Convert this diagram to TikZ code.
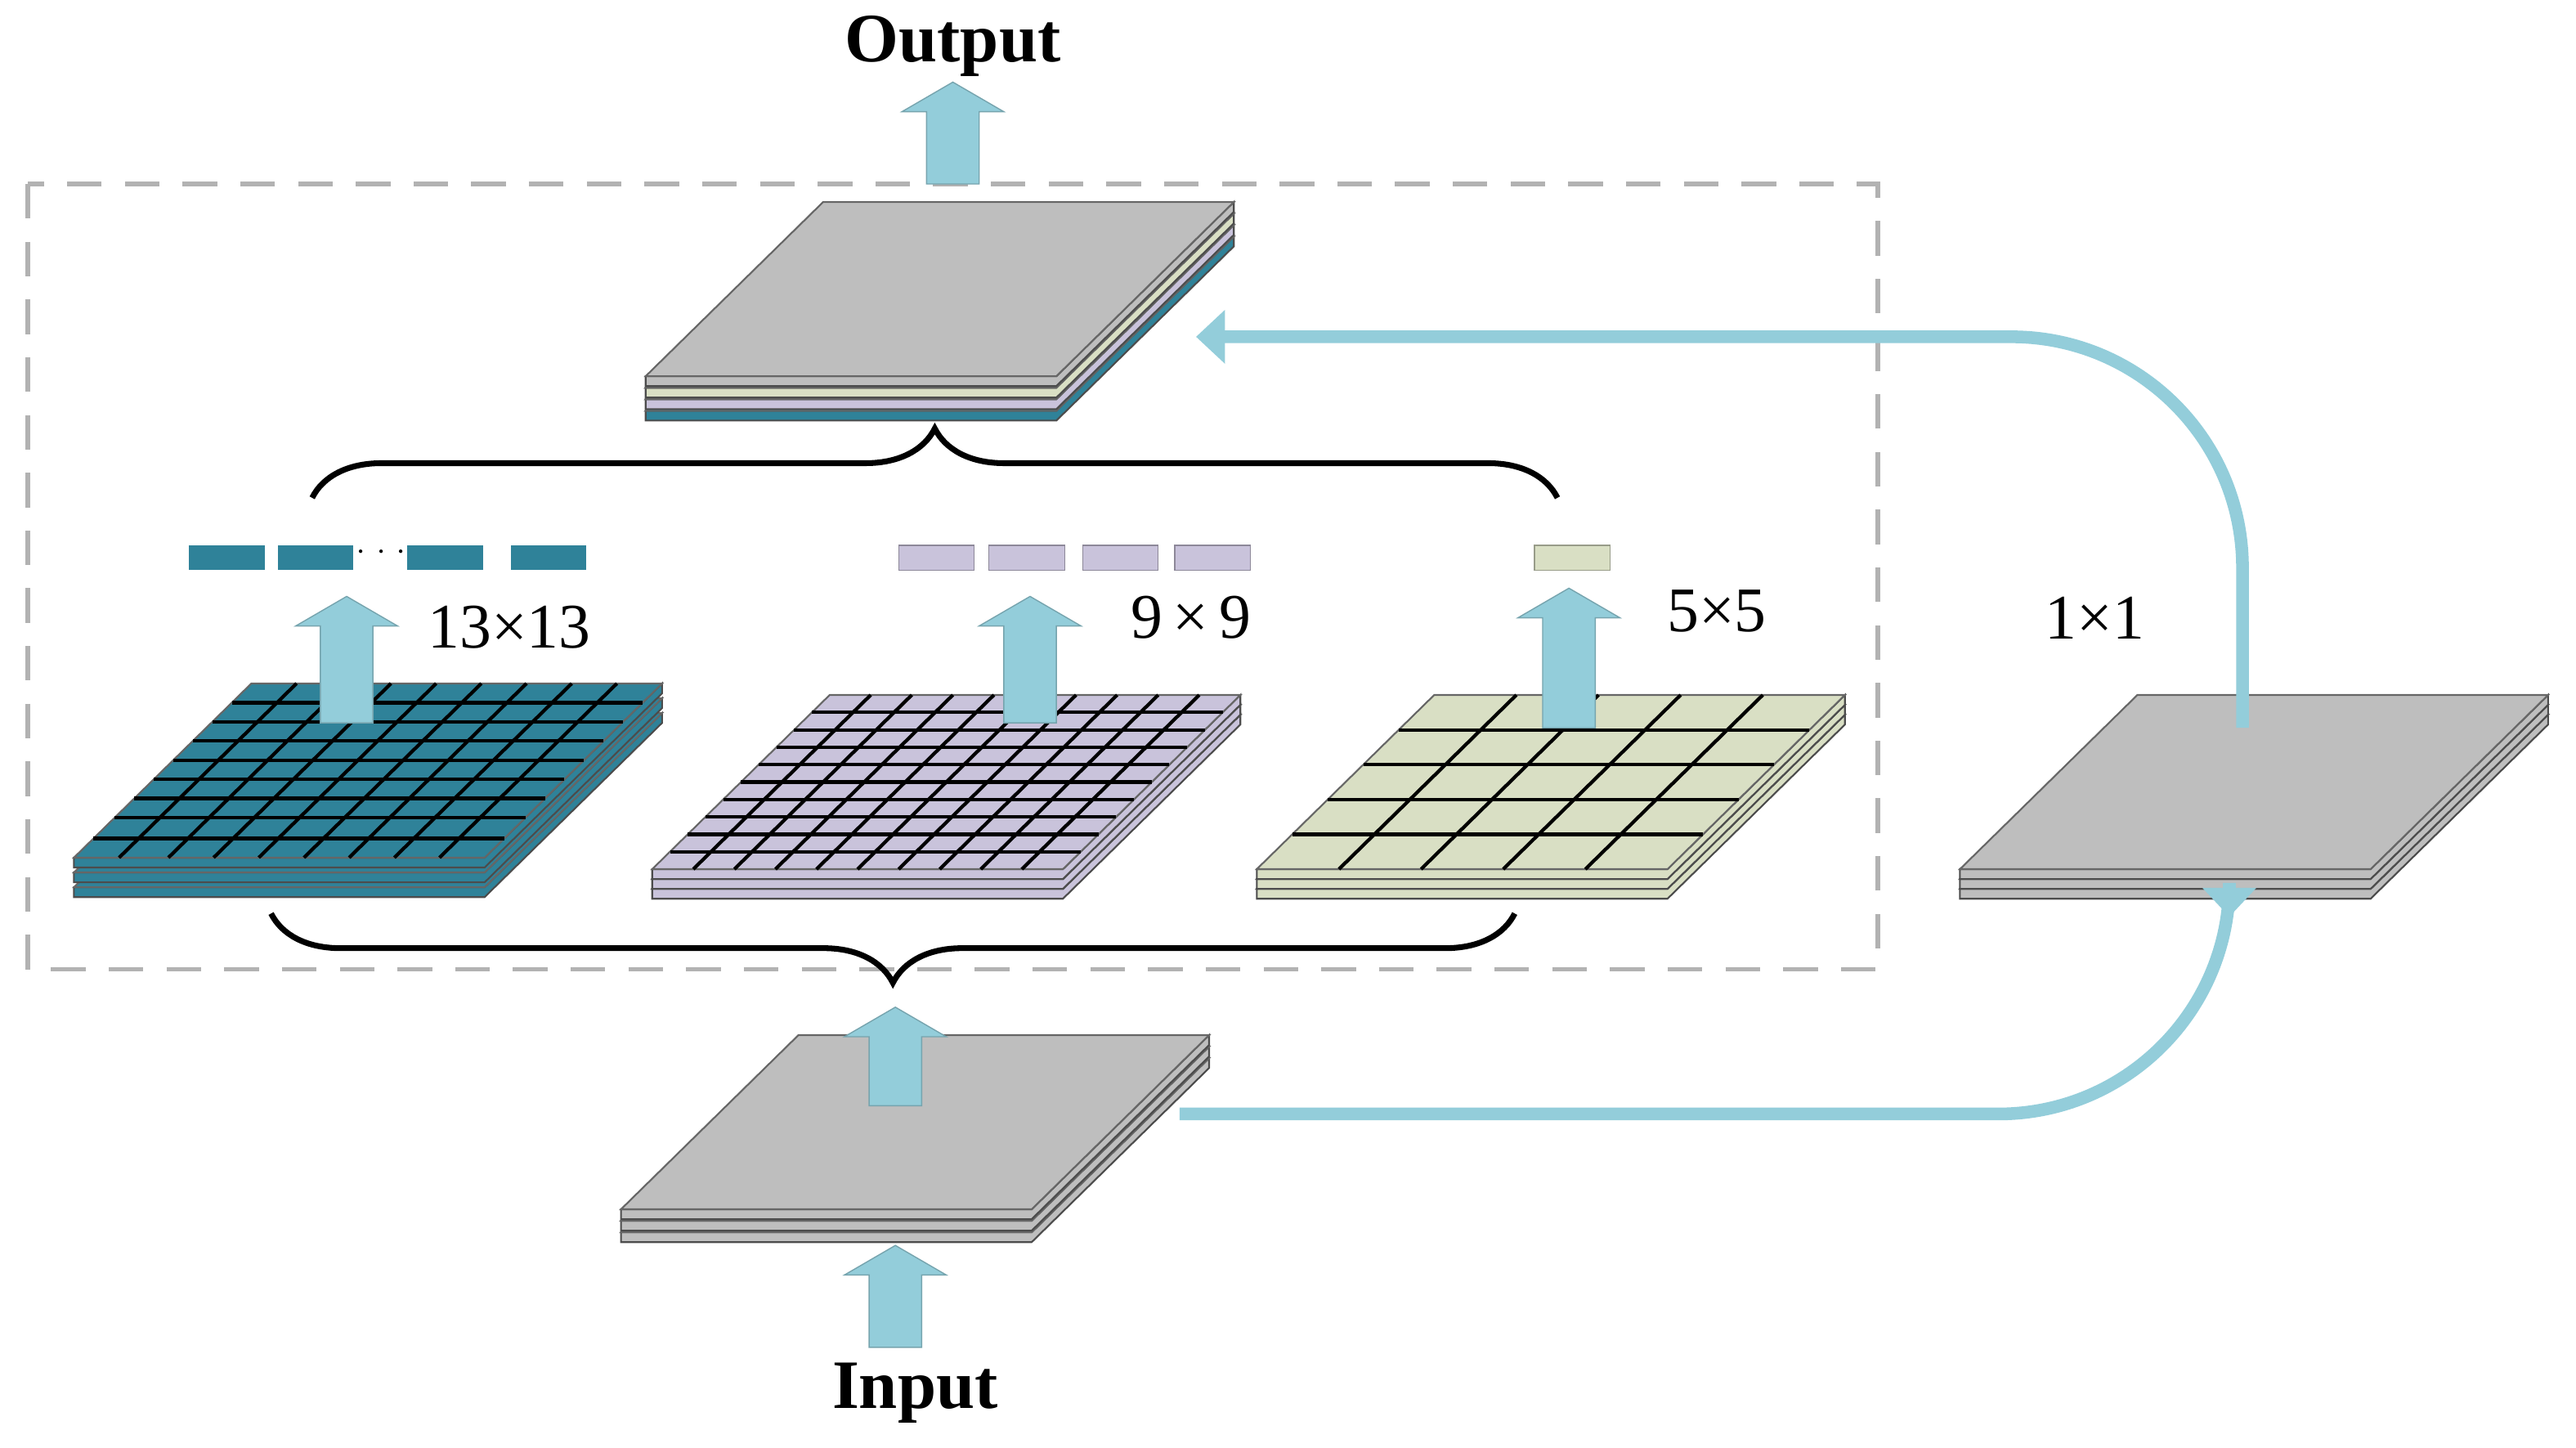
\documentclass[tikz,border=0pt]{standalone}
\usepackage{fontspec}
\setmainfont{Liberation Serif}
\usetikzlibrary{arrows.meta,decorations.pathreplacing}
\definecolor{teal1}{HTML}{2F8299}
\definecolor{purp1}{HTML}{C9C3DB}
\definecolor{yell1}{HTML}{D9DFC4}
\definecolor{gray1}{HTML}{BEBEBE}
\definecolor{arrblue}{HTML}{93CDDA}

% one slab of a stacked plate: front-left x, y, fill
\newcommand\slab[3]{%
  \filldraw[fill=#3,draw=black!70,line width=0.3pt]
    (#1,#2) -- (#1+250,#2) -- (#1+358,#2-106) -- (#1+358,#2-100)
    -- (#1+250,#2+6) -- (#1,#2+6) -- cycle;
  \filldraw[fill=#3,draw=black!60,line width=0.3pt]
    (#1,#2) -- (#1+250,#2) -- (#1+358,#2-106) -- (#1+108,#2-106) -- cycle;}
% grid on a plate: front-left x, y, list of fractions
\newcommand\plategrid[3]{%
  \foreach \u in {#3} {
    \draw[black,line width=0.6pt] (#1+\u*250,#2) -- (#1+\u*250+108,#2-106);
    \draw[black,line width=0.6pt] (#1+\u*108,#2-\u*106) -- (#1+250+\u*108,#2-\u*106);
  }}
% block arrow: centre x, bottom y, tip y
\newcommand\blockup[3]{%
  \filldraw[fill=arrblue,draw=arrblue!80!black,line width=0.2pt]
    (#1-16,#2) -- (#1+16,#2) -- (#1+16,#3+18) -- (#1+31,#3+18) -- (#1,#3)
    -- (#1-31,#3+18) -- (#1-16,#3+18) -- cycle;}

\begin{document}
\begin{tikzpicture}[x=0.1mm,y=-0.1mm,
  conn/.style={arrblue,line width=2.2pt,rounded corners=40,
    -{Triangle[width=9pt,length=5pt]}},
  lab/.style={font=\fontsize{11}{12}\selectfont},
  brc/.style={decorate,decoration={brace,amplitude=12pt},line width=1pt}]
  \useasboundingbox (0,0) rectangle (1568,881);

  % module frame
  \draw[gray!60,dashed,line width=0.8pt,dash pattern=on 6pt off 4pt]
    (17,112) rectangle (1143,590);

  % output stack
  \slab{393}{250}{teal1}
  \slab{393}{243}{purp1}
  \slab{393}{236}{yell1}
  \slab{393}{229}{gray1}
  \blockup{580}{112}{50}
  \node[font=\fontsize{12}{13}\selectfont\bfseries] (out) at (580,28) {Output};

  % pooled features
  \foreach \x in {115,169,248,311} \fill[teal1] (\x,332) rectangle ++(46,15);
  \node at (232,336) {\tiny$\cdots$};
  \foreach \x in {547,602,659,715} \filldraw[fill=purp1,draw=purp1!70!black,line width=0.2pt] (\x,332) rectangle ++(46,15);
  \filldraw[fill=yell1,draw=yell1!70!black,line width=0.2pt] (934,332) rectangle ++(46,15);

  \draw[brc] (190,303) -- (948,303);
  \draw[brc] (922,556) -- (165,556);

  % 13x13
  \slab{45}{540}{teal1}
  \slab{45}{531}{teal1}
  \slab{45}{522}{teal1}
  \plategrid{45}{522}{0.11,0.23,0.34,0.45,0.56,0.67,0.78,0.89}
  \blockup{211}{440}{363}
  \node[lab] (k13) at (310,382) {13×13};

  % 9x9
  \slab{397}{541}{purp1}
  \slab{397}{535}{purp1}
  \slab{397}{529}{purp1}
  \plategrid{397}{529}{0.1,0.2,0.3,0.4,0.5,0.6,0.7,0.8,0.9}
  \blockup{627}{440}{363}
  \node[lab] (k9) at (725,376) {9\,×\,9};

  % 5x5
  \slab{765}{541}{yell1}
  \slab{765}{535}{yell1}
  \slab{765}{529}{yell1}
  \plategrid{765}{529}{0.2,0.4,0.6,0.8}
  \blockup{955}{443}{358}
  \node[lab] (k5) at (1045,372) {5×5};

  % 1x1
  \slab{1193}{541}{gray1}
  \slab{1193}{535}{gray1}
  \slab{1193}{529}{gray1}
  \node[lab] (k1) at (1275,376) {1×1};

  % input stack
  \slab{378}{750}{gray1}
  \slab{378}{743}{gray1}
  \slab{378}{736}{gray1}
  \blockup{545}{673}{613}
  \blockup{545}{820}{758}
  \node[font=\fontsize{12}{13}\selectfont\bfseries] (in) at (557,848) {Input};

  % shortcut connectors
  \coordinate (inR) at (718,678);
  \coordinate (oneB) at (1357,558);
  \coordinate (oneT) at (1365,443);
  \coordinate (outR) at (728,205);
  \draw[conn] (inR) -- (1357,678) -- (oneB);
  \draw[conn] (oneT) -- (1365,205) -- (outR);
\end{tikzpicture}
\end{document}
